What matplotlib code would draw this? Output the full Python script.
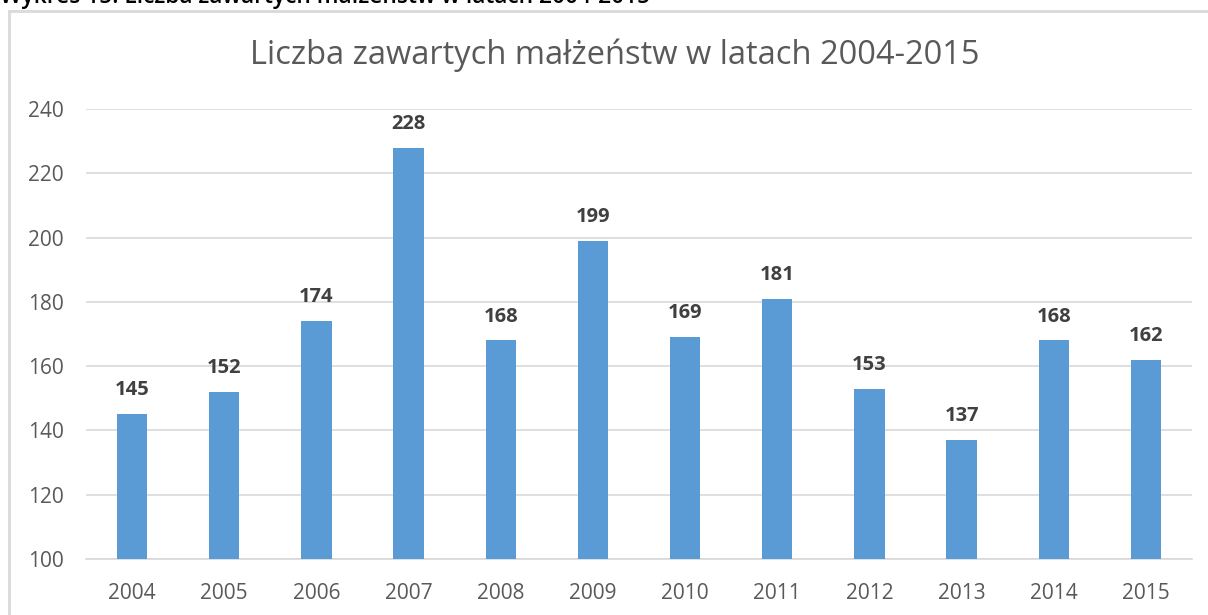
import matplotlib
matplotlib.use("Agg")
import matplotlib.pyplot as plt
from matplotlib.patches import Rectangle

years = ["2004", "2005", "2006", "2007", "2008", "2009", "2010", "2011", "2012", "2013", "2014", "2015"]
marriages = [145, 152, 174, 228, 168, 199, 169, 181, 153, 137, 168, 162]
y_ticks = [100, 120, 140, 160, 180, 200, 220, 240]

title = "Liczba zawartych małżeństw w latach 2004-2015"
caption = "Wykres 15. Liczba zawartych małżeństw w latach 2004-2015"

plt.rcParams['font.family'] = ['Open Sans', 'DejaVu Sans']

W, H = 1208, 615
fig = plt.figure(figsize=(W / 100, H / 100), dpi=100)
fig.patch.set_facecolor("white")

# outer chart border (extends beyond right/bottom edges)
fig.patches.append(Rectangle((9 / W, -0.1), 1.2, (H - 11) / H + 0.1, transform=fig.transFigure,
                             fill=False, edgecolor="#d9d9d9", linewidth=2))
# caption partly cut off at top
cap = fig.text(0.0, 1.0 - 3 / H, caption, ha="left", va="baseline", fontsize=14, color="black",
               fontweight="semibold", family=['Open Sans', 'DejaVu Sans'])
renderer = fig.canvas.get_renderer()
w = cap.get_window_extent(renderer).width
cap.set_fontsize(14 * 658 / w)

ax = fig.add_axes([86 / W, 56 / H, 1106 / W, 450 / H])
x = range(len(years))
bars = ax.bar(x, marriages, width=0.33, color="#5B9BD5", zorder=3)
ax.set_xlim(-0.5, len(years) - 0.5)
ax.set_ylim(100, 240)
ax.set_yticks(y_ticks)
ax.set_xticks(list(x))
ax.set_xticklabels(years)
ax.yaxis.grid(True, color="#d9d9d9", linewidth=1.2, zorder=0)
for s in ["top", "right", "left"]:
    ax.spines[s].set_visible(False)
ax.spines["bottom"].set_color("#d9d9d9")
ax.spines["bottom"].set_linewidth(1.2)
ax.tick_params(axis="both", length=0, labelsize=15, labelcolor="#595959")
ax.tick_params(axis="x", pad=17)
ax.tick_params(axis="y", pad=16)

for xi, v in zip(x, marriages):
    ax.annotate(str(v), (xi, v), xytext=(0, 10), textcoords="offset points",
                ha="center", va="bottom", fontsize=14.5, fontweight="bold", color="#404040")

fig.text(615 / W, 1 - 55 / H, title, ha="center", va="center", fontsize=23.5, color="#595959")

fig.savefig("out.png", dpi=100)
